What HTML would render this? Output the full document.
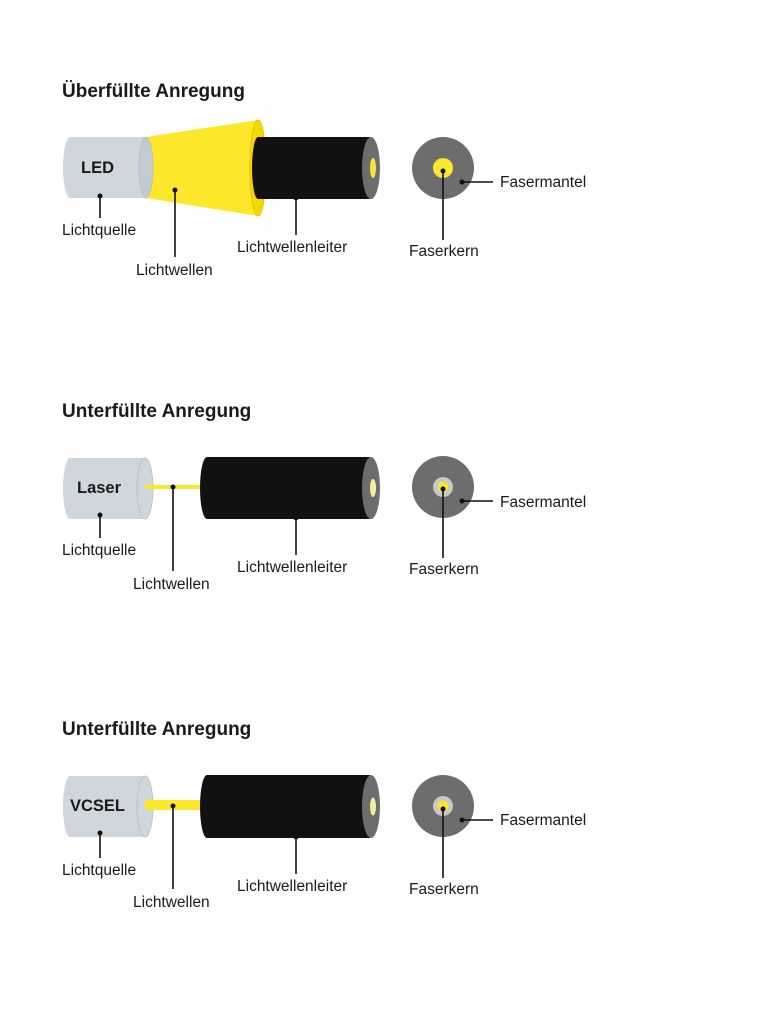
<!DOCTYPE html>
<html><head><meta charset="utf-8"><style>
html,body{margin:0;padding:0;background:#fff}
svg{display:block}
text{font-family:"Liberation Sans",sans-serif;fill:#1a1a1a}
.t{font-size:19px;font-weight:bold}
.l{font-size:15.5px}
.b{font-size:16.5px;font-weight:bold}
</style></head><body>
<svg width="767" height="1024" viewBox="0 0 767 1024" xmlns="http://www.w3.org/2000/svg">
<!-- Section 1 -->
<text class="t" x="62" y="97">Überfüllte Anregung</text>
<path d="M146 137 L258 120 L258 216 L146 198 Z" fill="#fde72a"/>
<ellipse cx="258" cy="168" rx="8" ry="48" fill="#f5d800" stroke="#e6c200" stroke-width="1"/>
<path d="M70 137 H146 V198 H70 A7 30.5 0 0 1 70 137 Z" fill="#cfd6dc"/>
<ellipse cx="146" cy="167.5" rx="7" ry="30.5" fill="#c3cbd2" stroke="#b5bec6" stroke-width="0.8"/>
<text class="b" x="81" y="173">LED</text>
<path d="M258 137 H370 V199 H258 A6 31 0 0 1 258 137 Z" fill="#111"/>
<ellipse cx="371" cy="168" rx="9" ry="31" fill="#6d6d6d"/>
<ellipse cx="373" cy="168" rx="3" ry="10" fill="#f5e43a"/>
<circle cx="100" cy="196" r="2.5" fill="#111"/><line x1="100" y1="196" x2="100" y2="218" stroke="#111" stroke-width="1.6"/>
<text class="l" x="62" y="235">Lichtquelle</text>
<circle cx="175" cy="190" r="2.5" fill="#111"/><line x1="175" y1="190" x2="175" y2="257" stroke="#111" stroke-width="1.6"/>
<text class="l" x="136" y="275">Lichtwellen</text>
<circle cx="296" cy="198" r="2.5" fill="#111"/><line x1="296" y1="198" x2="296" y2="235" stroke="#111" stroke-width="1.6"/>
<text class="l" x="237" y="252">Lichtwellenleiter</text>
<circle cx="443" cy="168" r="31" fill="#6d6d6d"/>
<circle cx="443" cy="168" r="10" fill="#fde72a"/>
<circle cx="443" cy="171" r="2.5" fill="#111"/><line x1="443" y1="171" x2="443" y2="240" stroke="#111" stroke-width="1.6"/>
<text class="l" x="409" y="256">Faserkern</text>
<circle cx="462" cy="182" r="2.5" fill="#111"/><line x1="462" y1="182" x2="493" y2="182" stroke="#111" stroke-width="1.6"/>
<text class="l" x="500" y="187">Fasermantel</text>

<!-- Section 2 -->
<text class="t" x="62" y="417">Unterfüllte Anregung</text>
<path d="M70 458 H145 V519 H70 A7 30.5 0 0 1 70 458 Z" fill="#cfd6dc"/>
<ellipse cx="145" cy="488.5" rx="8" ry="30.5" fill="#cfd6dc" stroke="#b5bec6" stroke-width="0.8"/>
<text class="b" x="77" y="493">Laser</text>
<rect x="145" y="485" width="60" height="4" fill="#fde72a"/>
<path d="M207 457 H370 V519 H207 A7 31 0 0 1 207 457 Z" fill="#111"/>
<ellipse cx="371" cy="488" rx="9" ry="31" fill="#6d6d6d"/>
<ellipse cx="373" cy="488" rx="3" ry="9" fill="#f5eea0"/>
<circle cx="100" cy="515" r="2.5" fill="#111"/><line x1="100" y1="515" x2="100" y2="538" stroke="#111" stroke-width="1.6"/>
<text class="l" x="62" y="555">Lichtquelle</text>
<circle cx="173" cy="487" r="2.5" fill="#111"/><line x1="173" y1="487" x2="173" y2="571" stroke="#111" stroke-width="1.6"/>
<text class="l" x="133" y="589">Lichtwellen</text>
<circle cx="296" cy="518" r="2.5" fill="#111"/><line x1="296" y1="518" x2="296" y2="555" stroke="#111" stroke-width="1.6"/>
<text class="l" x="237" y="572">Lichtwellenleiter</text>
<circle cx="443" cy="487" r="31" fill="#6d6d6d"/>
<circle cx="443" cy="487" r="10" fill="#c8c8c8"/>
<circle cx="443" cy="487" r="5.5" fill="#fde72a"/>
<circle cx="443" cy="489" r="2.5" fill="#111"/><line x1="443" y1="489" x2="443" y2="558" stroke="#111" stroke-width="1.6"/>
<text class="l" x="409" y="574">Faserkern</text>
<circle cx="462" cy="501" r="2.5" fill="#111"/><line x1="462" y1="501" x2="493" y2="501" stroke="#111" stroke-width="1.6"/>
<text class="l" x="500" y="507">Fasermantel</text>

<!-- Section 3 -->
<text class="t" x="62" y="735">Unterfüllte Anregung</text>
<path d="M70 776 H145 V837 H70 A7 30.5 0 0 1 70 776 Z" fill="#cfd6dc"/>
<ellipse cx="145" cy="806.5" rx="8" ry="30.5" fill="#cfd6dc" stroke="#b5bec6" stroke-width="0.8"/>
<text class="b" x="70" y="811">VCSEL</text>
<rect x="145" y="800" width="60" height="10" fill="#fde72a"/>
<path d="M207 775 H370 V838 H207 A7 31.5 0 0 1 207 775 Z" fill="#111"/>
<ellipse cx="371" cy="806.5" rx="9" ry="31.5" fill="#6d6d6d"/>
<ellipse cx="373" cy="806.5" rx="3" ry="9" fill="#f5eea0"/>
<circle cx="100" cy="833" r="2.5" fill="#111"/><line x1="100" y1="833" x2="100" y2="858" stroke="#111" stroke-width="1.6"/>
<text class="l" x="62" y="875">Lichtquelle</text>
<circle cx="173" cy="806" r="2.5" fill="#111"/><line x1="173" y1="806" x2="173" y2="889" stroke="#111" stroke-width="1.6"/>
<text class="l" x="133" y="907">Lichtwellen</text>
<circle cx="296" cy="837" r="2.5" fill="#111"/><line x1="296" y1="837" x2="296" y2="874" stroke="#111" stroke-width="1.6"/>
<text class="l" x="237" y="891">Lichtwellenleiter</text>
<circle cx="443" cy="806" r="31" fill="#6d6d6d"/>
<circle cx="443" cy="806" r="10" fill="#c8c8c8"/>
<circle cx="443" cy="806" r="5.5" fill="#fde72a"/>
<circle cx="443" cy="809" r="2.5" fill="#111"/><line x1="443" y1="809" x2="443" y2="878" stroke="#111" stroke-width="1.6"/>
<text class="l" x="409" y="894">Faserkern</text>
<circle cx="462" cy="820" r="2.5" fill="#111"/><line x1="462" y1="820" x2="493" y2="820" stroke="#111" stroke-width="1.6"/>
<text class="l" x="500" y="825">Fasermantel</text>
</svg>
</body></html>
